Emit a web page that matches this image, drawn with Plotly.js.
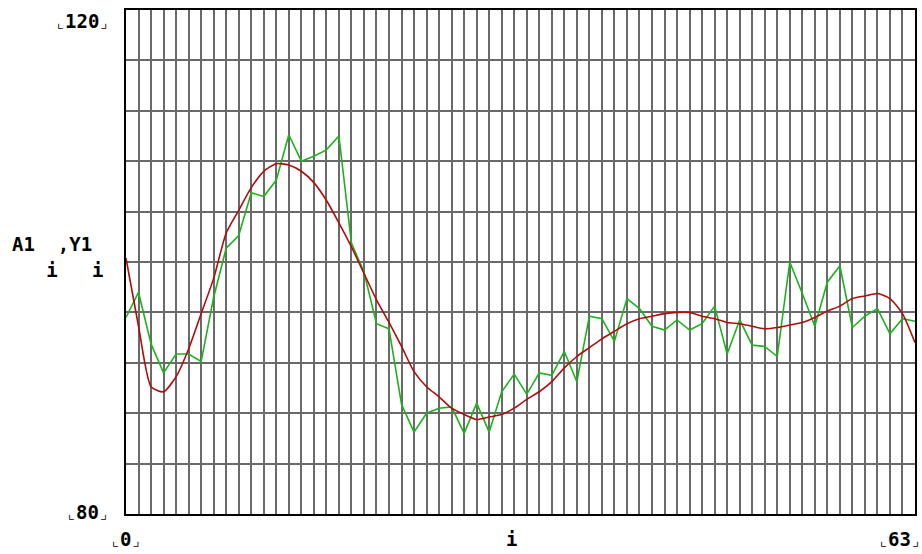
<!DOCTYPE html>
<html>
<head>
<meta charset="utf-8">
<script src="https://cdn.plot.ly/plotly-3.0.1.min.js"></script>
<style>html,body{margin:0;padding:0;background:#fff;}#chart{width:922px;height:554px;}</style>
</head>
<body>
<div id="chart"></div>
<script>
// index i
const idx = Array.from({length: 64}, (_, k) => k);
// Y1: measured data (green)
const Y1 = [95.6, 97.6, 93.5, 91.2, 92.7, 92.7, 92.1, 97.2, 101.1, 102.1, 105.5, 105.2,
            106.5, 110.1, 108.0, 108.4, 108.9, 110.0, 101.5, 99.2, 95.1, 94.7, 88.7, 86.5,
            88.0, 88.4, 88.5, 86.4, 88.8, 86.5, 89.7, 91.1, 89.5, 91.2, 91.0, 92.9,
            90.5, 95.7, 95.5, 93.7, 97.1, 96.3, 94.9, 94.6, 95.4, 94.6, 95.1, 96.5,
            92.7, 95.4, 93.4, 93.3, 92.5, 100.0, 97.5, 94.9, 98.4, 99.7, 94.8, 95.7,
            96.3, 94.3, 95.5, 95.3];
// A1: smooth curve (red)
const A1 = [100.3, 94.9, 90.1, 89.7, 90.9, 93.1, 95.9, 98.7, 102.3, 104.1, 105.9, 107.2,
            107.8, 107.7, 107.2, 106.3, 104.9, 103.1, 101.2, 99.1, 97.0, 95.2, 93.3, 91.3,
            90.1, 89.3, 88.4, 87.9, 87.5, 87.7, 87.9, 88.4, 89.1, 89.7, 90.5, 91.6,
            92.5, 93.2, 93.9, 94.5, 95.1, 95.5, 95.7, 95.9, 96.0, 96.0, 95.7, 95.5,
            95.2, 95.1, 94.9, 94.7, 94.8, 95.0, 95.2, 95.6, 96.1, 96.5, 97.1, 97.3,
            97.5, 97.1, 95.9, 93.6];
// axis limits / labels
const xLimits = [0, 63];
const yLimits = [80, 120];
const xLimitLabels = ['0', '63'];
const yLimitLabels = ['80', '120'];
const xTitle = 'i';
const yTitleMain = 'A1  ,Y1';
const yTitleSub = '   i   i';

const font = {family: 'DejaVu Sans Mono', size: 19, color: '#000'};
const nb = s => s.replace(/ /g, '&nbsp;');
const br = s => '<span style="font-size:15px">\u231E</span><b>' + s + '</b><span style="font-size:15px">\u231F</span>';

const traces = [
  {x: idx, y: Y1, type: 'scatter', mode: 'lines', line: {color: '#1db21d', width: 1.6}, hoverinfo: 'none'},
  {x: idx, y: A1, type: 'scatter', mode: 'lines', line: {color: '#b00c0c', width: 1.6, shape: 'spline', smoothing: 0.6}, hoverinfo: 'none'}
];

const annotations = [
  {xref: 'paper', yref: 'y', x: 0, y: yLimits[1], text: br(yLimitLabels[1]), showarrow: false,
   xanchor: 'right', yanchor: 'top', xshift: -16, yshift: 2, font: font},
  {xref: 'paper', yref: 'y', x: 0, y: yLimits[0], text: br(yLimitLabels[0]), showarrow: false,
   xanchor: 'right', yanchor: 'middle', xshift: -16, yshift: 2, font: font},
  {xref: 'x', yref: 'paper', x: xLimits[0], y: 0, text: br(xLimitLabels[0]), showarrow: false,
   xanchor: 'center', yanchor: 'top', yshift: -12, font: font},
  {xref: 'x', yref: 'paper', x: xLimits[1], y: 0, text: br(xLimitLabels[1]), showarrow: false,
   xanchor: 'right', yanchor: 'top', xshift: 7, yshift: -12, font: font},
  {xref: 'paper', yref: 'paper', x: 0.5, y: 0, text: '<b>' + xTitle + '</b>', showarrow: false,
   xanchor: 'center', yanchor: 'top', xshift: -9, yshift: -12, font: font},
  {xref: 'paper', yref: 'paper', x: 0, y: 0.535, text: '<b>' + nb(yTitleMain) + '</b>', showarrow: false,
   xanchor: 'left', yanchor: 'middle', xshift: -116, font: font},
  {xref: 'paper', yref: 'paper', x: 0, y: 0.485, text: '<b>' + nb(yTitleSub) + '</b>', showarrow: false,
   xanchor: 'left', yanchor: 'middle', xshift: -116, font: font}
];

const layout = {
  width: 922, height: 554,
  margin: {l: 126, r: 7, t: 10, b: 40},
  paper_bgcolor: '#fff', plot_bgcolor: '#fff',
  showlegend: false,
  xaxis: {range: xLimits, dtick: 1, tick0: 0, showgrid: true, gridcolor: '#6a6a6a', gridwidth: 2,
          zeroline: false, showline: true, mirror: true, linecolor: '#000', linewidth: 2,
          showticklabels: false, ticks: ''},
  yaxis: {range: yLimits, dtick: 4, tick0: 80, showgrid: true, gridcolor: '#6a6a6a', gridwidth: 2,
          zeroline: false, showline: true, mirror: true, linecolor: '#000', linewidth: 2,
          showticklabels: false, ticks: ''},
  annotations: annotations
};

Plotly.newPlot('chart', traces, layout, {staticPlot: true, displayModeBar: false});
</script>
</body>
</html>
